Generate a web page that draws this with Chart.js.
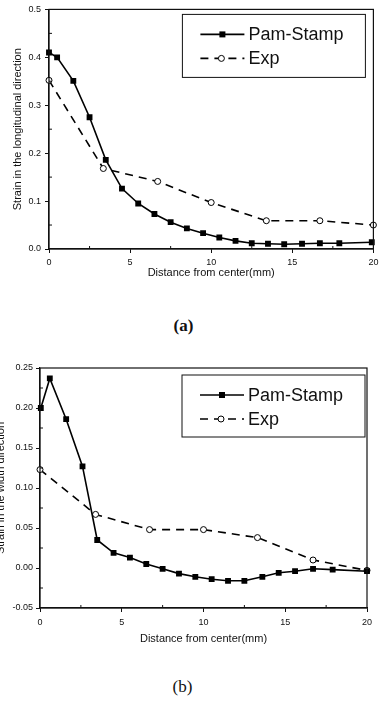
<!DOCTYPE html>
<html>
<head>
<meta charset="utf-8">
<script src="https://cdn.jsdelivr.net/npm/chart.js@4/dist/chart.umd.min.js"></script>
<style>
  html, body { margin: 0; padding: 0; background: #fff; }
  body { width: 379px; height: 703px; position: relative; overflow: hidden; }
  .box { position: absolute; }
  .cap { position: absolute; width: 379px; text-align: center; font-family: "Liberation Serif", serif; font-size: 17px; color: #111; }
</style>
</head>
<body>
<div class="box" style="left:0;top:0;width:379px;height:290px"><canvas id="chartA"></canvas></div>
<div class="cap" style="top:316px;left:-6px;font-weight:bold">(a)</div>
<div class="box" style="left:-10px;top:340px;width:389px;height:310px"><canvas id="chartB"></canvas></div>
<div class="cap" style="top:677px;left:-7px">(b)</div>
<script>
// (a) longitudinal strain
const pamXA = [0, 0.5, 1.5, 2.5, 3.5, 4.5, 5.5, 6.5, 7.5, 8.5, 9.5, 10.5, 11.5, 12.5, 13.5, 14.5, 15.6, 16.7, 17.9, 19.9];
const pamYA = [0.41, 0.40, 0.351, 0.275, 0.186, 0.126, 0.095, 0.073, 0.056, 0.043, 0.033, 0.024, 0.017, 0.012, 0.011, 0.010, 0.011, 0.012, 0.012, 0.014];
const expXA = [0, 3.35, 6.7, 10, 13.4, 16.7, 20];
const expYA = [0.352, 0.168, 0.141, 0.097, 0.059, 0.059, 0.05];

// (b) width strain
const pamXB = [0.05, 0.6, 1.6, 2.6, 3.5, 4.5, 5.5, 6.5, 7.5, 8.5, 9.5, 10.5, 11.5, 12.5, 13.6, 14.6, 15.6, 16.7, 17.9, 20];
const pamYB = [0.20, 0.237, 0.186, 0.127, 0.035, 0.019, 0.013, 0.005, -0.001, -0.007, -0.011, -0.014, -0.016, -0.016, -0.011, -0.006, -0.004, -0.001, -0.002, -0.004];
const expXB = [0, 3.4, 6.7, 10, 13.3, 16.7, 20];
const expYB = [0.123, 0.067, 0.048, 0.048, 0.038, 0.010, -0.003];

const xTicks = [0, 5, 10, 15, 20];
const seriesNames = ['Pam-Stamp', 'Exp'];

const FONT = '"Liberation Sans", Arial, sans-serif';
const INK = '#111';

function pts(xs, ys) {
    return xs.map((x, i) => ({ x: x, y: ys[i] }));
}

// frame + minor ticks + in-plot legend
const framePlugin = {
    id: 'frame',
    afterDatasetsDraw(chart, args, opts) {
        const { ctx, chartArea: a, scales } = chart;
        ctx.save();
        ctx.strokeStyle = INK;
        ctx.lineWidth = 1.2;
        ctx.strokeRect(a.left, a.top, a.right - a.left, a.bottom - a.top);

        // minor ticks, inward
        ctx.lineWidth = 1;
        ctx.beginPath();
        for (let v = 2.5; v < 20; v += 5) {
            const px = scales.x.getPixelForValue(v);
            ctx.moveTo(px, a.bottom); ctx.lineTo(px, a.bottom - 3);
        }
        const ys = scales.y;
        for (let v = ys.min + opts.minor; v < ys.max; v += opts.minor * 2) {
            const py = ys.getPixelForValue(v);
            ctx.moveTo(a.left, py); ctx.lineTo(a.left + 3, py);
        }
        ctx.stroke();

        // legend box
        const bx = a.right - opts.right - opts.w, by = a.top + opts.top;
        ctx.fillStyle = '#fff';
        ctx.fillRect(bx, by, opts.w, opts.h);
        ctx.lineWidth = 1;
        ctx.strokeRect(bx, by, opts.w, opts.h);

        ctx.font = '18px ' + FONT;
        ctx.textBaseline = 'middle';
        ctx.fillStyle = INK;
        chart.data.datasets.forEach((ds, i) => {
            const ry = by + opts.rows[i];
            ctx.strokeStyle = '#000';
            ctx.lineWidth = 1.6;
            ctx.setLineDash(ds.borderDash || []);
            ctx.beginPath();
            ctx.moveTo(bx + 18, ry); ctx.lineTo(bx + 62, ry);
            ctx.stroke();
            ctx.setLineDash([]);
            ctx.lineWidth = 1;
            if (ds.pointStyle === 'rect') {
                ctx.fillStyle = '#000';
                ctx.fillRect(bx + 37, ry - 3, 6, 6);
            } else {
                ctx.fillStyle = '#fff';
                ctx.beginPath();
                ctx.arc(bx + 39, ry, 3, 0, Math.PI * 2);
                ctx.fill(); ctx.stroke();
            }
            ctx.fillStyle = INK;
            ctx.fillText(ds.label, bx + 66, ry + 1);
        });
        ctx.restore();
    }
};

function makeChart(id, cfg) {
    return new Chart(document.getElementById(id), {
        type: 'line',
        data: {
            datasets: [
                {
                    label: seriesNames[0], data: cfg.pam,
                    borderColor: '#000', borderWidth: 1.6,
                    pointStyle: 'rect', pointRadius: 3, pointBackgroundColor: '#000', pointBorderColor: '#000',
                    tension: 0, clip: false
                },
                {
                    label: seriesNames[1], data: cfg.exp,
                    borderColor: '#000', borderWidth: 1.6, borderDash: [8, 6],
                    pointStyle: 'circle', pointRadius: 3, pointBackgroundColor: '#fff', pointBorderColor: '#000', pointBorderWidth: 1,
                    tension: 0, clip: false
                }
            ]
        },
        options: {
            responsive: true,
            maintainAspectRatio: false,
            animation: false,
            layout: { padding: cfg.padding },
            plugins: {
                legend: { display: false },
                tooltip: { enabled: false },
                frame: cfg.legend
            },
            scales: {
                x: {
                    type: 'linear', min: 0, max: 20,
                    afterBuildTicks: (s) => { s.ticks = xTicks.map(v => ({ value: v })); },
                    afterFit: (s) => { s.height = cfg.xH; s.paddingLeft = 0; s.paddingRight = 0; },
                    grid: { drawOnChartArea: false, tickLength: 4, color: INK, lineWidth: 1 },
                    border: { color: INK, width: 1.2 },
                    ticks: { color: INK, font: { family: FONT, size: 9 }, padding: cfg.xPad, maxRotation: 0 },
                    title: { display: true, text: 'Distance from center(mm)', color: INK, font: { family: FONT, size: 11 }, padding: { top: 0, bottom: cfg.xTitlePad } }
                },
                y: {
                    min: cfg.yMin, max: cfg.yMax,
                    ticks: {
                        stepSize: cfg.yStep, color: INK, font: { family: FONT, size: 9 }, padding: cfg.yPad,
                        callback: (v) => (Math.abs(v) < 1e-9 ? 0 : v).toFixed(cfg.dec)
                    },
                    afterFit: (s) => { s.width = cfg.yW; },
                    grid: { drawOnChartArea: false, tickLength: 4, color: INK, lineWidth: 1 },
                    border: { color: INK, width: 1.2 },
                    title: { display: true, text: cfg.yTitle, color: INK, font: { family: FONT, size: 11 }, padding: { top: cfg.yTitlePad, bottom: 0 } }
                }
            }
        },
        plugins: [framePlugin]
    });
}

makeChart('chartA', {
    pam: pts(pamXA, pamYA), exp: pts(expXA, expYA),
    padding: { left: 0, right: 4, top: 8, bottom: 0 },
    xH: 41, yW: 49, xPad: 4, yPad: 4, xTitlePad: 10, yTitlePad: 11,
    yMin: 0, yMax: 0.5, yStep: 0.1, dec: 1,
    yTitle: 'Strain in the longitudinal direction',
    legend: { right: 8, top: 5, w: 183, h: 63, rows: [20, 44], minor: 0.05 }
});

makeChart('chartB', {
    pam: pts(pamXB, pamYB), exp: pts(expXB, expYB),
    padding: { left: 0, right: 12, top: 28, bottom: 0 },
    xH: 42, yW: 50, xPad: 5, yPad: 3, xTitlePad: 4, yTitlePad: 4,
    yMin: -0.05, yMax: 0.25, yStep: 0.05, dec: 2,
    yTitle: 'Strain in the width direction',
    legend: { right: 2, top: 7, w: 183, h: 62, rows: [20, 44], minor: 0.025 }
});
</script>
</body>
</html>
